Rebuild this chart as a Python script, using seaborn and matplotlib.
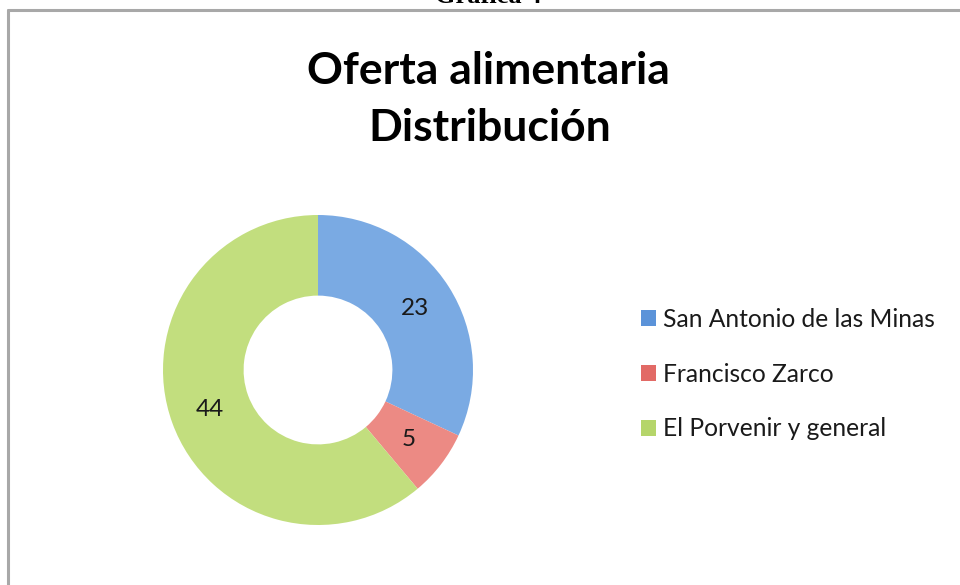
import matplotlib
matplotlib.use("Agg")
import matplotlib.pyplot as plt
import seaborn as sns
from matplotlib.lines import Line2D
from matplotlib.patches import Patch

sns.set_theme(style="white")
plt.rcParams['font.family'] = ['Lato', 'DejaVu Sans']

categories = ["San Antonio de las Minas", "Francisco Zarco", "El Porvenir y general"]
values = [23, 5, 44]
colors = ["#7aaae3", "#ec8a84", "#c2de7e"]
legend_colors = ["#5b93d9", "#e26a66", "#b5d56a"]
title_lines = ["Oferta alimentaria", "Distribución"]

W, H = 960, 585
fig = plt.figure(figsize=(W / 100, H / 100), dpi=100)
fig.patch.set_facecolor("white")

# chart frame (only top & left visible in the crop)
fig.add_artist(Line2D([8 / W, 1], [1 - 9.5 / H, 1 - 9.5 / H], color="#a8a8a8", lw=2.2))
fig.add_artist(Line2D([8 / W, 8 / W], [0, 1 - 9.5 / H], color="#a8a8a8", lw=2.2))

# caption above the chart, mostly cropped off as in the source
fig.text(488 / W, 1 - 3 / H, "Gráfica 4", ha="center", va="baseline",
         family="Liberation Serif", fontweight="bold", fontsize=19, color="black")

# donut axes
cx, cy, r = 318, 370, 155
ax = fig.add_axes([(cx - r) / W, 1 - (cy + r) / H, 2 * r / W, 2 * r / H])
wedges, texts, autotexts = ax.pie(
    values, colors=colors, startangle=90, counterclock=False,
    wedgeprops=dict(width=0.52, edgecolor="none"),
    autopct=lambda p: f"{round(p * sum(values) / 100):d}", pctdistance=0.74,
    textprops=dict(fontsize=17.5, color="#1a1a1a"),
)
ax.set_xlim(-1, 1)
ax.set_ylim(-1, 1)
ax.set_aspect("auto")
ax.axis("off")

# title
fig.text(488 / W, 1 - 84 / H, title_lines[0], ha="center", va="baseline",
         fontsize=32, fontweight="bold", color="black")
fig.text(490 / W, 1 - 141 / H, title_lines[1], ha="center", va="baseline",
         fontsize=32, fontweight="bold", color="black")

# legend
handles = [Patch(facecolor=c, edgecolor="none") for c in legend_colors]
leg = fig.legend(handles, categories, loc="center left",
                 bbox_to_anchor=(619 / W, 1 - 374 / H), frameon=False,
                 fontsize=17.7, handlelength=0.6, handleheight=0.6,
                 handletextpad=0.3, labelspacing=1.3)
for t in leg.get_texts():
    t.set_color("#1a1a1a")

fig.savefig("out.png", dpi=100, facecolor="white")
